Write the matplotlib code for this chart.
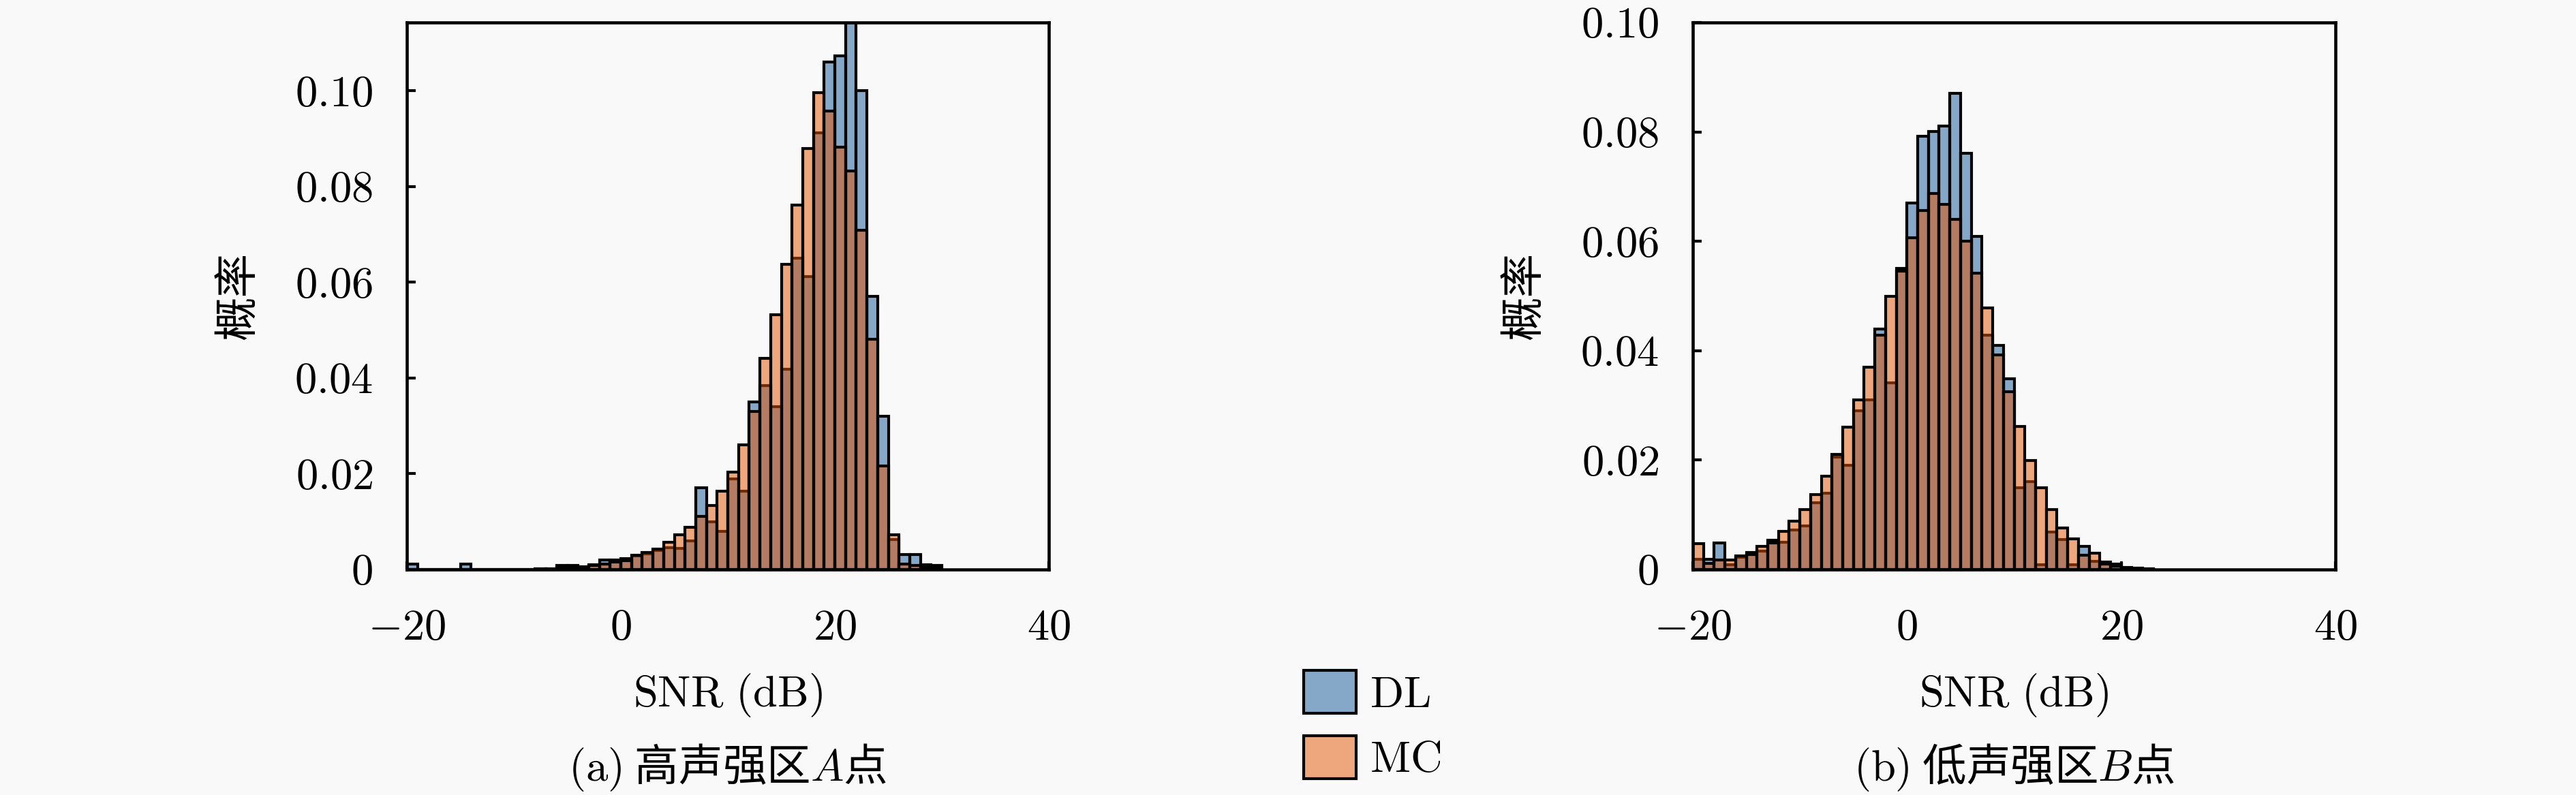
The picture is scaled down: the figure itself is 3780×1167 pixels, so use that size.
"""SNR histograms, DL vs MC, at the high- and low-intensity points."""
import numpy as np
import matplotlib; matplotlib.use("Agg"); import matplotlib.pyplot as plt

plt.rcParams["font.family"]=["cmr10","Noto Sans CJK SC","DejaVu Sans"]
plt.rcParams["mathtext.fontset"]="cm"
plt.rcParams["axes.unicode_minus"]=False

# 1 dB bins, value = left edge of the bin
bins_a=np.arange(-20,30)
dl_a=[0.0011,0,0,0,0,0.0011,0,0,0,0,0,0,0.0001,0.0002,0.0009,0.0009,0.0006,0.0010,0.0020,0.0020,
      0.0023,0.0028,0.0033,0.0040,0.0045,0.0044,0.0060,0.0171,0.0100,0.0080,0.0189,0.0163,0.0350,0.0384,0.0340,
      0.0419,0.0650,0.0612,0.0913,0.1061,0.1073,0.1190,0.1001,0.0571,0.0320,0.0062,0.0032,0.0032,0.0010,0.0008]
mc_a=[0,0,0,0,0,0,0,0,0,0,0,0,0.0001,0.0002,0.0004,0.0006,0.0005,0.0008,0.0012,0.0015,
      0.0018,0.0030,0.0036,0.0043,0.0057,0.0073,0.0088,0.0111,0.0134,0.0163,0.0204,0.0260,0.0330,0.0441,0.0532,
      0.0638,0.0761,0.0880,0.0997,0.0958,0.0882,0.0832,0.0709,0.0481,0.0217,0.0073,0.0012,0.0008,0.0005,0.0003]
bins_b=np.arange(-20,23)
dl_b=[0.0019,0.0019,0.0049,0.0009,0.0023,0.0031,0.0034,0.0054,0.0050,0.0072,0.0080,0.0122,0.0140,0.0205,0.0190,
      0.0290,0.0310,0.0439,0.0341,0.0551,0.0670,0.0792,0.0801,0.0811,0.0871,0.0761,0.0609,0.0429,0.0410,0.0349,
      0.0149,0.0161,0.0009,0.0069,0.0055,0.0009,0.0042,0.0015,0.0014,0.0010,0.0004,0.0002,0.0001]
mc_b=[0.0047,0.0011,0.0017,0.0018,0.0025,0.0027,0.0042,0.0048,0.0070,0.0088,0.0109,0.0137,0.0171,0.0211,0.0260,
      0.0310,0.0370,0.0428,0.0500,0.0545,0.0606,0.0656,0.0688,0.0667,0.0640,0.0600,0.0542,0.0478,0.0392,0.0325,
      0.0262,0.0199,0.0149,0.0109,0.0076,0.0056,0.0026,0.0030,0.0010,0.0006,0.0003,0.0002,0.0001]
xticks=[-20,0,20,40]
yticks=[0,0.02,0.04,0.06,0.08,0.10]
captions=[r"$\mathrm{(a)}$ 高声强区$A$点",r"$\mathrm{(b)}$ 低声强区$B$点"]
names=["DL","MC"]

BG="#f9f9f9"; FS=15.5
C_DL=(19/255,89/255,153/255,0.5); C_MC=(228/255,84/255,0,0.5)
W,H=3780,1167
fig=plt.figure(figsize=(W/300,H/300),dpi=300,facecolor=BG)
axA=fig.add_axes([597/W,1-836/H,942/W,803/H]); axB=fig.add_axes([2484/W,1-836/H,943/W,803/H])

for ax,bins,dl,mc,top,cap in [(axA,bins_a,dl_a,mc_a,0.1143,captions[0]),(axB,bins_b,dl_b,mc_b,0.1,captions[1])]:
    ax.set_facecolor(BG)
    h1=ax.bar(bins,dl,width=1,align="edge",color=C_DL,edgecolor="k",lw=1.0)
    h2=ax.bar(bins,mc,width=1,align="edge",color=C_MC,edgecolor="k",lw=1.0)
    ax.set_xlim(-20,40); ax.set_ylim(0,top)
    ax.set_xticks(xticks); ax.set_xticklabels([f"${t}$" for t in xticks])
    ax.set_yticks(yticks); ax.set_yticklabels(["$0$" if t==0 else f"${t:.2f}$" for t in yticks])
    ax.tick_params(direction="in",length=3,width=1,labelsize=FS)
    ax.tick_params(axis="y",pad=12); ax.tick_params(axis="x",pad=14)
    for s in ax.spines.values(): s.set_linewidth(1.1)
    ax.set_xlabel(r"$\mathrm{SNR\ (dB)}$",fontsize=FS); ax.xaxis.set_label_coords(0.5,-0.187)
    ax.set_ylabel("概率",fontsize=FS,family="Noto Sans CJK SC"); ax.yaxis.set_label_coords(-0.227,0.5)
    ax.text(0.5,-0.386,cap,transform=ax.transAxes,ha="center",va="baseline",fontsize=FS,family="Noto Sans CJK SC")

fig.legend([h1,h2],[rf"$\mathrm{{{n}}}$" for n in names],loc="upper left",bbox_to_anchor=(1913/W,(H-984)/H),
           frameon=False,fontsize=FS,handlelength=1.19,handleheight=1.13,handletextpad=0.31,labelspacing=0.45,
           borderpad=0,borderaxespad=0)
fig.savefig("out.png",dpi=300,facecolor=BG)
